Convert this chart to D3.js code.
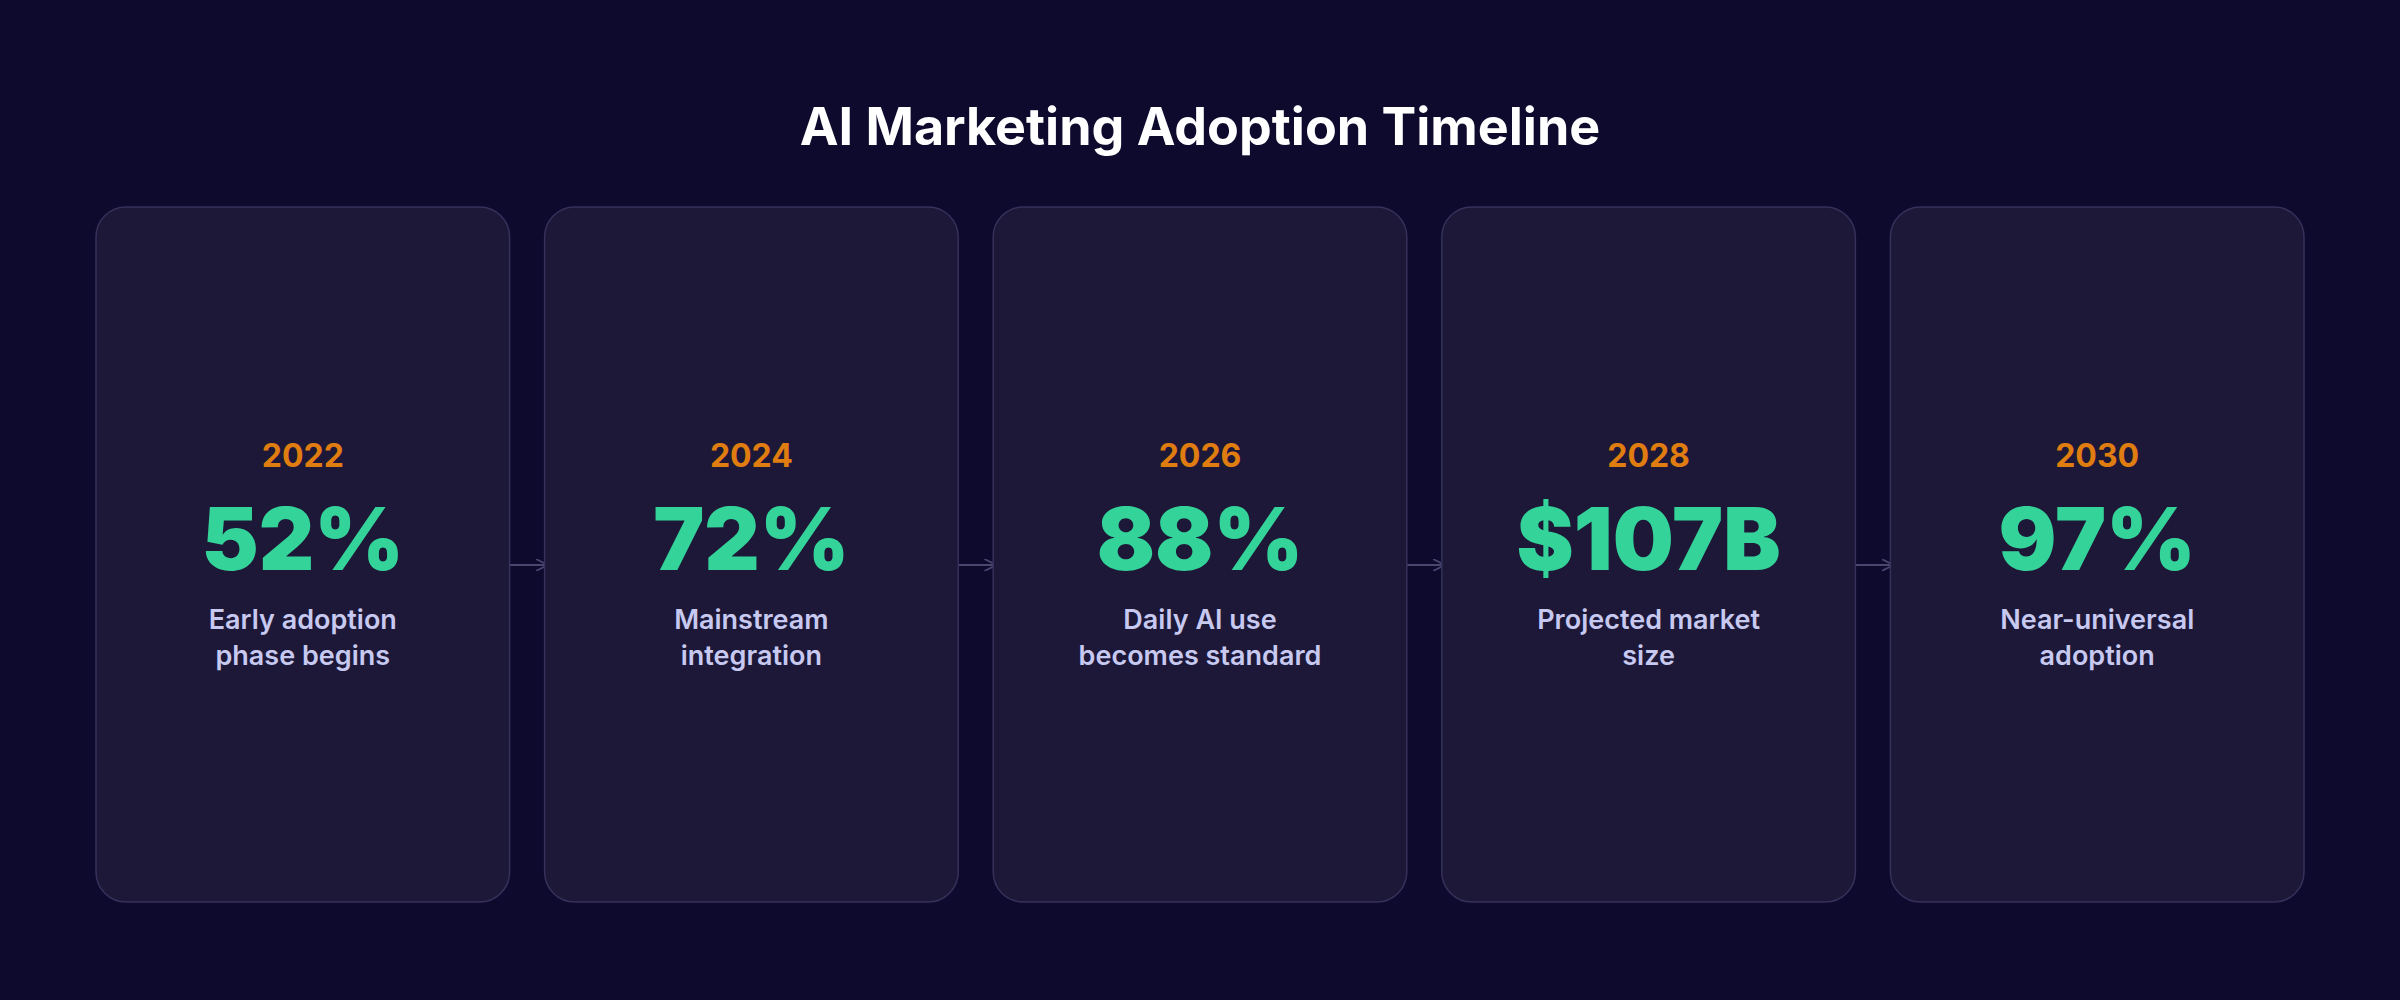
<!DOCTYPE html>
<html><head><meta charset="utf-8">
<script src="https://cdn.jsdelivr.net/npm/d3@7"></script>
<style>html,body{margin:0;background:#0e0a2d;}</style>
</head><body><div id="chart"></div>
<script>
const years = ['2022', '2024', '2026', '2028', '2030'];
const values = ['52%', '72%', '88%', '$107B', '97%'];
const descriptions = [
  ['Early adoption', 'phase begins'],
  ['Mainstream', 'integration'],
  ['Daily AI use', 'becomes standard'],
  ['Projected market', 'size'],
  ['Near-universal', 'adoption']
];

const width = 2400, height = 1000;
const font = 'Inter, "Noto Sans", sans-serif';
const svg = d3.select('#chart').append('svg').attr('width', width).attr('height', height);
svg.append('rect').attr('width', width).attr('height', height).attr('fill', '#0e0a2d');

svg.append('text').attr('x', width / 2).attr('y', 127).attr('dy', '0.35em')
  .attr('text-anchor', 'middle').attr('fill', '#fff')
  .style('font-family', font).style('font-weight', 700).style('font-size', '52px')
  .text('AI Marketing Adoption Timeline');

const x = d3.scaleBand().domain(years).range([96, 2304]).paddingInner(0.078);
const cardTop = 207, cardBottom = 902;

// arrows between cards
const defs = svg.append('defs');
defs.append('marker').attr('id', 'ah').attr('viewBox', '0 0 10 10').attr('refX', 9).attr('refY', 5)
  .attr('markerWidth', 6).attr('markerHeight', 6).attr('orient', 'auto')
  .append('path').attr('d', 'M0,0L10,5L0,10').attr('fill', 'none').attr('stroke', '#4a4670').attr('stroke-width', 1.5);
svg.selectAll('line.arrow').data(years.slice(1)).enter().append('line')
  .attr('x1', d => x(d) - x.step() + x.bandwidth() - 10)
  .attr('x2', d => x(d) + 2)
  .attr('y1', 565).attr('y2', 565)
  .attr('stroke', '#4a4670').attr('stroke-width', 2).attr('marker-end', 'url(#ah)');

const card = svg.selectAll('g.card').data(years).enter().append('g')
  .attr('transform', d => `translate(${x(d)},0)`);
card.append('rect').attr('y', cardTop).attr('width', x.bandwidth()).attr('height', cardBottom - cardTop)
  .attr('rx', 30).attr('fill', '#1d1838').attr('stroke', '#35315a').attr('stroke-width', 1.5);

const cx = x.bandwidth() / 2;
card.append('text').attr('x', cx).attr('y', 456).attr('dy', '0.35em').attr('text-anchor', 'middle')
  .attr('fill', '#e07d10').style('font-family', font).style('font-weight', 700).style('font-size', '32px')
  .text(d => d);
card.append('text').attr('x', cx).attr('y', 540).attr('dy', '0.35em').attr('text-anchor', 'middle')
  .attr('fill', '#34d399').style('font-family', font).style('font-weight', 900).style('font-size', '86px')
  .text((d, i) => values[i]);
card.each(function (d, i) {
  d3.select(this).selectAll('text.desc').data(descriptions[i]).enter().append('text')
    .attr('x', cx).attr('y', (t, j) => 620 + j * 36).attr('dy', '0.35em').attr('text-anchor', 'middle')
    .attr('fill', '#c7c9f0').style('font-family', font).style('font-weight', 600).style('font-size', '27px')
    .text(t => t);
});
</script></body></html>
